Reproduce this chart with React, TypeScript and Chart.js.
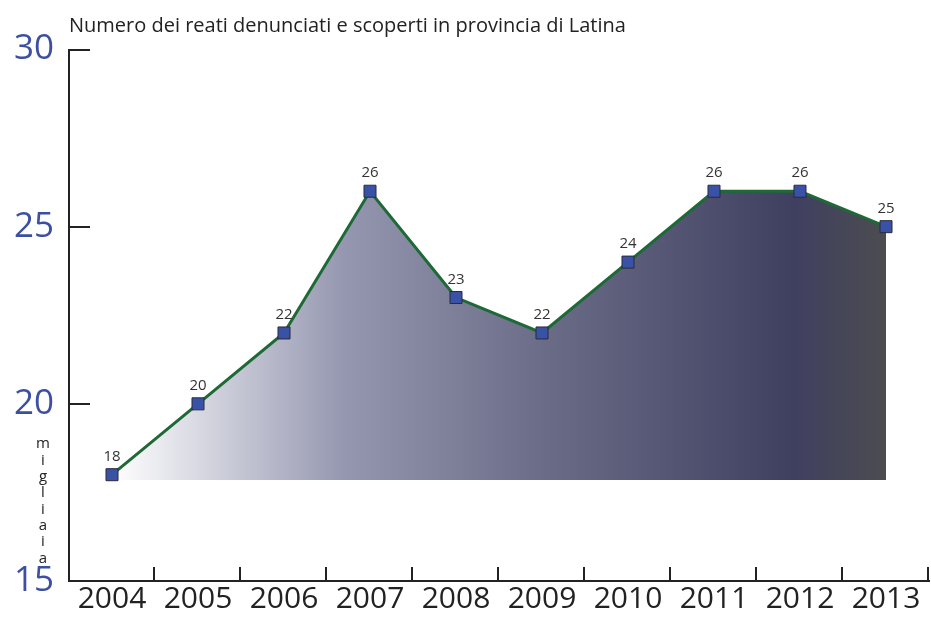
import React, { useEffect, useRef } from "react";
import { Chart, registerables } from "chart.js";

Chart.register(...registerables);

const years = ["2004", "2005", "2006", "2007", "2008", "2009", "2010", "2011", "2012", "2013"];
const crimes = [18, 20, 22, 26, 23, 22, 24, 26, 26, 25];
const yTicks = [15, 20, 25, 30];
const unitLetters = ["m", "i", "g", "l", "i", "a", "i", "a"];
const titleText = "Numero dei reati denunciati e scoperti in provincia di Latina";
const fillBase = 17.85;

const FONT = "'Open Sans', 'Noto Sans', sans-serif";

const extrasPlugin = {
  id: "extras",
  afterDraw(chart: any) {
    const ctx = chart.ctx;
    const x = chart.scales.x;
    const y = chart.scales.y;
    const area = chart.chartArea;
    ctx.save();
    ctx.strokeStyle = "#222";
    ctx.lineWidth = 2;
    yTicks.forEach((v) => {
      if (v === y.min) return;
      const py = Math.round(y.getPixelForValue(v));
      ctx.beginPath();
      ctx.moveTo(area.left, py);
      ctx.lineTo(area.left + 21, py);
      ctx.stroke();
    });
    const n = years.length;
    const w = (x.right - x.left) / n;
    for (let i = 1; i <= n; i++) {
      const px = Math.round(x.left + i * w) - 1;
      ctx.beginPath();
      ctx.moveTo(px, area.bottom);
      ctx.lineTo(px, area.bottom - 14);
      ctx.stroke();
    }
    ctx.fillStyle = "#333";
    ctx.font = `15px ${FONT}`;
    ctx.textAlign = "center";
    ctx.textBaseline = "middle";
    const meta = chart.getDatasetMeta(0);
    meta.data.forEach((el: any, i: number) => {
      ctx.fillText(String(crimes[i]), el.x, el.y - 18);
    });
    ctx.font = `15px ${FONT}`;
    ctx.fillStyle = "#222";
    const cy = y.getPixelForValue(17.25);
    const step = 16.3;
    const start = cy - ((unitLetters.length - 1) * step) / 2;
    unitLetters.forEach((ch, i) => {
      ctx.fillText(ch, 43, start + i * step);
    });
    ctx.restore();
  },
};

export default function App() {
  const ref = useRef<HTMLCanvasElement>(null);
  useEffect(() => {
    if (!ref.current) return;
    const chart = new Chart(ref.current, {
      type: "line",
      data: {
        labels: years,
        datasets: [
          {
            data: crimes,
            borderColor: "#1e6a36",
            borderWidth: 3,
            tension: 0,
            pointStyle: "rect",
            pointRadius: 8.5,
            pointHoverRadius: 8.5,
            pointBackgroundColor: "#3a52a6",
            pointBorderColor: "#2b2b3c",
            pointBorderWidth: 1,
            fill: { value: fillBase },
            backgroundColor: (c: any) => {
              const ch = c.chart;
              const area = ch.chartArea;
              if (!area) return "#6c6d88";
              const xs = ch.scales.x;
              const x0 = xs.getPixelForValue(0);
              const x1 = xs.getPixelForValue(years.length - 1);
              const g = ch.ctx.createLinearGradient(x0, 0, x1, 0);
              g.addColorStop(0, "#ffffff");
              g.addColorStop(0.3, "#9597b0");
              g.addColorStop(0.55, "#6c6d88");
              g.addColorStop(0.88, "#3f4060");
              g.addColorStop(1, "#4c4c50");
              return g;
            },
          },
        ],
      },
      options: {
        animation: false,
        responsive: false,
        maintainAspectRatio: false,
        devicePixelRatio: 1,
        layout: { autoPadding: false, padding: { left: 0, right: 2, top: 0, bottom: 0 } },
        plugins: {
          legend: { display: false },
          tooltip: { enabled: false },
          title: {
            display: true,
            text: titleText,
            align: "start",
            fullSize: false,
            color: "#222",
            font: { family: FONT, size: 20, weight: "normal" },
            padding: { top: 14, bottom: 11.5 },
          },
        },
        scales: {
          x: {
            type: "category",
            offset: true,
            grid: { display: true, offset: true, drawOnChartArea: false, drawTicks: false },
            border: { display: true, color: "#222", width: 2 },
            ticks: {
              color: "#222",
              padding: 3,
              maxRotation: 0,
              autoSkip: false,
              font: { family: FONT, size: 30, lineHeight: 1 },
            },
          },
          y: {
            min: 15,
            max: 30,
            grid: { display: true, drawOnChartArea: false, drawTicks: false },
            border: { display: true, color: "#222", width: 2 },
            ticks: {
              stepSize: 5,
              color: "#3c4fa0",
              padding: 15,
              font: { family: FONT, size: 35 },
            },
            afterFit: (s: any) => {
              s.width = 69;
            },
          },
        },
      },
      plugins: [extrasPlugin],
    });
    return () => chart.destroy();
  }, []);
  return (
    <div style={{ position: "fixed", left: 0, top: 0, width: 931, height: 617 }}>
      <canvas ref={ref} width={931} height={617} style={{ display: "block", width: 931, height: 617 }} />
    </div>
  );
}
